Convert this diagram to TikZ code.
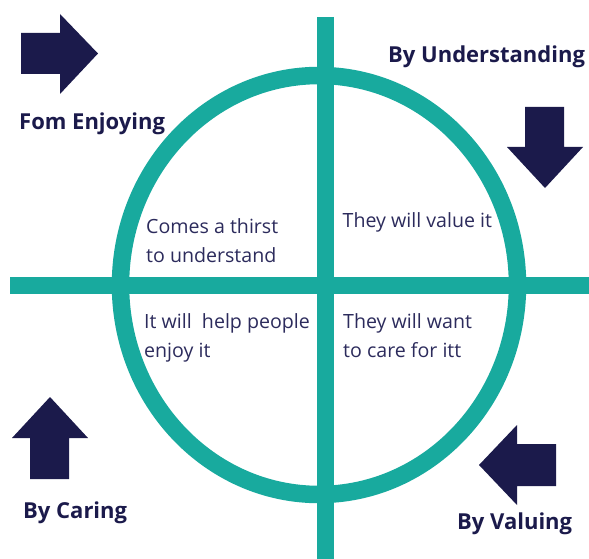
\documentclass[tikz,border=0pt]{standalone}
\usepackage{fontspec}
\setmainfont{Open Sans}
\definecolor{teal}{RGB}{24,170,158}
\definecolor{navy}{RGB}{27,26,75}
\definecolor{inktxt}{RGB}{44,43,92}
\tikzset{
    bigarrow/.style={fill=navy,draw=none},
    heading/.style={anchor=base west,inner sep=0pt,text=navy,font=\fontsize{22}{26}\selectfont\bfseries},
    quadtxt/.style={anchor=base west,inner sep=0pt,text=inktxt,font=\fontsize{19.6}{24}\selectfont}
}
\begin{document}
\begin{tikzpicture}[x=1pt,y=-1pt]
        \useasboundingbox (0,0) rectangle (589,559);

        % cross and ring
        \draw[teal,line width=17.5pt] (319,285) ellipse [x radius=198.5,y radius=209.5];
        \coordinate (vtop) at (325.5,17);
        \coordinate (vbot) at (325.5,559);
        \coordinate (hleft) at (10,285.5);
        \coordinate (hright) at (589,285.5);
        \draw[teal,line width=17.5pt] (vtop) -- (vbot);
        \draw[teal,line width=17.5pt] (hleft) -- (hright);

        % arrows
        \fill[bigarrow] (21,33) -- (60,33) -- (60,14) -- (98,53.5) -- (60,94) -- (60,74) -- (21,74) -- cycle;
        \fill[bigarrow] (525,107) -- (564,107) -- (564,147) -- (583,147) -- (545,188) -- (507,147) -- (525,147) -- cycle;
        \fill[bigarrow] (30,479) -- (30,438) -- (12,438) -- (50,397) -- (88,438) -- (69,438) -- (69,479) -- cycle;
        \fill[bigarrow] (556,444) -- (517,444) -- (517,425) -- (479,465) -- (517,505) -- (517,486) -- (556,486) -- cycle;

        % headings
        \node[heading] (enjoying) at (19,129.5) {Fom Enjoying};
        \node[heading] (understanding) at (388,63) {By Understanding};
        \node[heading] (caring) at (23,518) {By Caring};
        \node[heading] (valuing) at (457,529) {By Valuing};

        % quadrants
        \node[quadtxt] (thirst) at (146,233) {Comes a thirst};
        \node[quadtxt] (thirsttwo) at (146,262) {to understand};
        \node[quadtxt] (value) at (342.5,227.5) {They will value it};
        \node[quadtxt] (help) at (144,328) {It will\ \ help people};
        \node[quadtxt] (helptwo) at (144,357) {enjoy it};
        \node[quadtxt] (care) at (343,328) {They will want};
        \node[quadtxt] (caretwo) at (343,357) {to care for itt};
\end{tikzpicture}
\end{document}
